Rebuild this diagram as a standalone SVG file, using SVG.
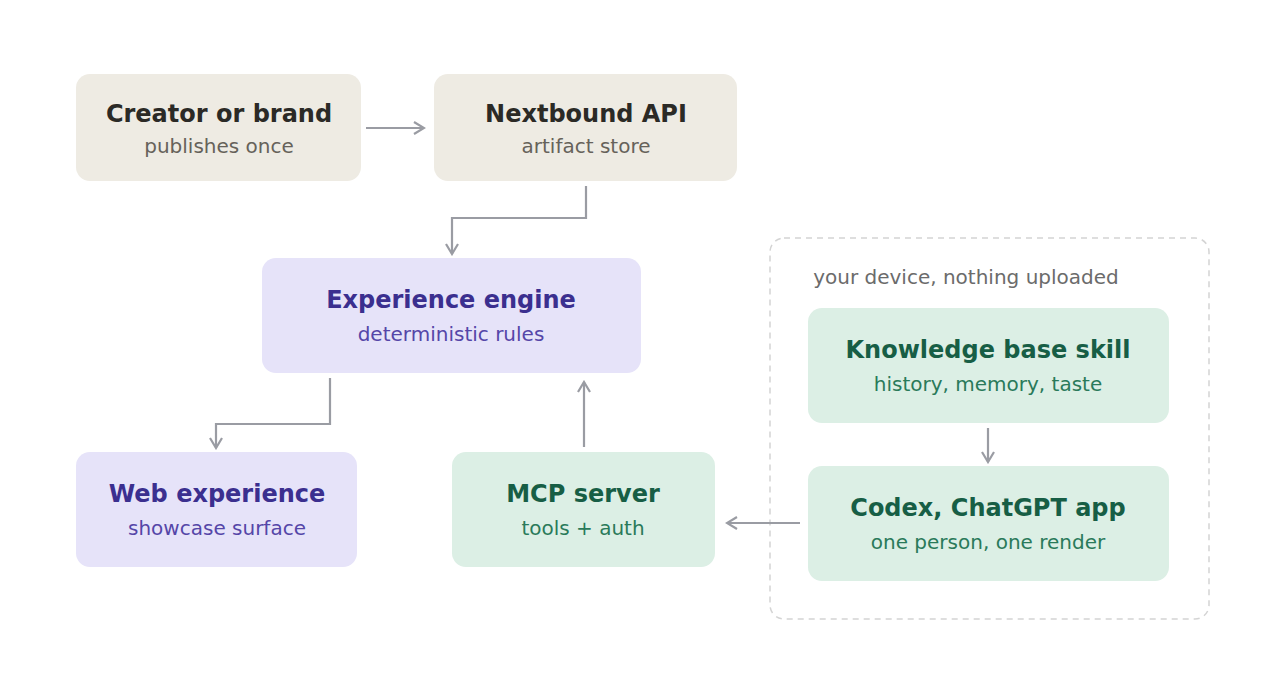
<svg xmlns="http://www.w3.org/2000/svg" width="1280" height="700" viewBox="0 0 1280 700">
<style>
text{font-family:"DejaVu Sans",sans-serif;text-anchor:middle}
.t{font-size:24px;font-weight:bold}
.s{font-size:20px}
.sand rect{fill:#eeebe3}.sand .t{fill:#2b2a26}.sand .s{fill:#66625a}
.lav rect{fill:#e6e3f9}.lav .t{fill:#3b2f8f}.lav .s{fill:#5546a8}
.grn rect{fill:#dcefe5}.grn .t{fill:#175e45}.grn .s{fill:#2a7a5a}
.c{fill:none;stroke:#9a9ca3;stroke-width:2.2}
</style>
<defs><marker id="a" markerWidth="14" markerHeight="14" refX="12" refY="7" orient="auto" markerUnits="userSpaceOnUse"><path d="M2,1 L12,7 L2,13" fill="none" stroke="#9a9ca3" stroke-width="2.2"/></marker></defs>
<rect x="770" y="238" width="439" height="381" rx="14" fill="none" stroke="#d4d4d4" stroke-width="1.5" stroke-dasharray="6,5"/>
<text x="966" y="284" style="font-size:20px;fill:#6b6b6b">your device, nothing uploaded</text>
<g id="creator" class="sand"><rect x="76" y="74" width="285" height="107" rx="14"/><text class="t" x="219" y="122">Creator or brand</text><text class="s" x="219" y="153">publishes once</text></g>
<g id="api" class="sand"><rect x="434" y="74" width="303" height="107" rx="14"/><text class="t" x="586" y="122">Nextbound API</text><text class="s" x="586" y="153">artifact store</text></g>
<g id="engine" class="lav"><rect x="262" y="258" width="379" height="115" rx="14"/><text class="t" x="451" y="308">Experience engine</text><text class="s" x="451" y="341">deterministic rules</text></g>
<g id="web" class="lav"><rect x="76" y="452" width="281" height="115" rx="14"/><text class="t" x="217" y="502">Web experience</text><text class="s" x="217" y="535">showcase surface</text></g>
<g id="mcp" class="grn"><rect x="452" y="452" width="263" height="115" rx="14"/><text class="t" x="583" y="502">MCP server</text><text class="s" x="583" y="535">tools + auth</text></g>
<g id="kb" class="grn"><rect x="808" y="308" width="361" height="115" rx="14"/><text class="t" x="988" y="358">Knowledge base skill</text><text class="s" x="988" y="391">history, memory, taste</text></g>
<g id="codex" class="grn"><rect x="808" y="466" width="361" height="115" rx="14"/><text class="t" x="988" y="516">Codex, ChatGPT app</text><text class="s" x="988" y="549">one person, one render</text></g>
<g id="connectors">
<path class="c" d="M366,128 H424" marker-end="url(#a)"/>
<path class="c" d="M586,186 V218 H452 V254" marker-end="url(#a)"/>
<path class="c" d="M330,378 V424 H216 V448" marker-end="url(#a)"/>
<path class="c" d="M584,447 V382" marker-end="url(#a)"/>
<path class="c" d="M988,428 V462" marker-end="url(#a)"/>
<path class="c" d="M800,523 H727" marker-end="url(#a)"/>
</g>
</svg>
